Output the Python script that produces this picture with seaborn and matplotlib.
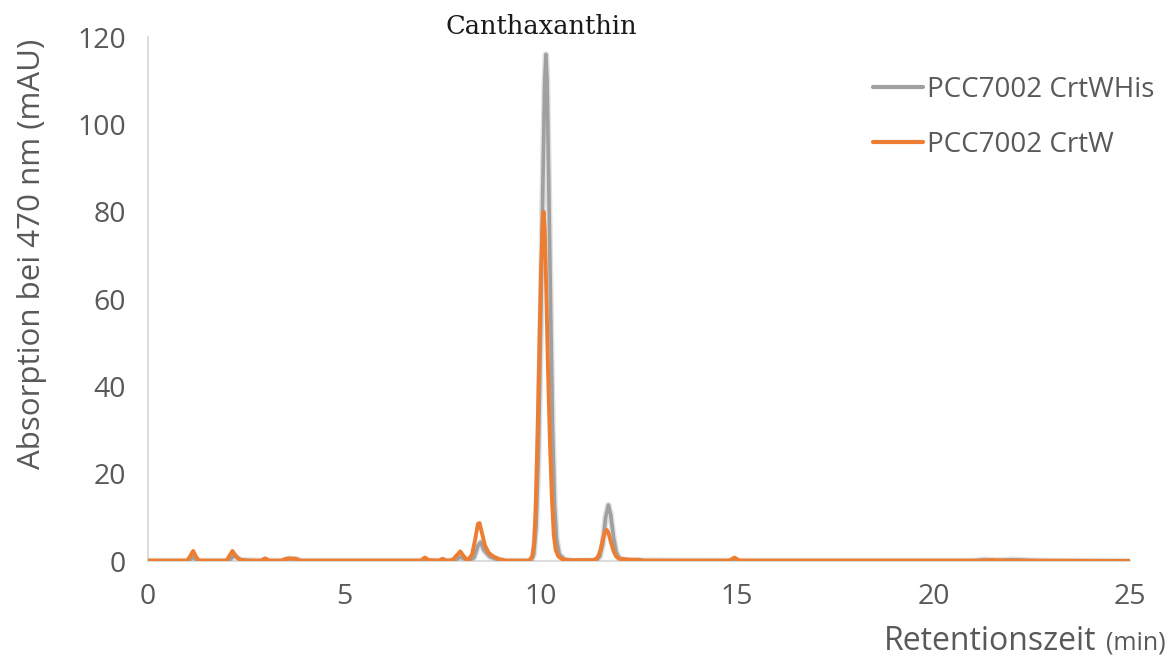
import matplotlib
matplotlib.use("Agg")
import matplotlib.pyplot as plt
import matplotlib.patheffects as pe
from matplotlib.ticker import MultipleLocator
import seaborn as sns
import pandas as pd

# ---- data ----
crtwhis_t = [0.0, 1.0, 1.1, 1.15, 1.25, 2.05, 2.2, 2.35, 2.9, 3.0, 3.1, 3.45, 3.6, 3.8, 3.9,
             6.95, 7.05, 7.15, 7.45, 7.5, 7.6, 7.8, 7.95, 8.1, 8.2, 8.3, 8.4, 8.47, 8.55, 8.7, 8.9, 9.1,
             9.75, 9.82, 9.88, 9.94, 10.0, 10.05, 10.1, 10.13, 10.16, 10.2, 10.25, 10.3, 10.35, 10.4,
             10.47, 10.6, 10.8, 11.4, 11.5, 11.58, 11.65, 11.72, 11.78, 11.85, 11.92, 12.0, 12.2,
             14.85, 14.95, 15.05, 21.0, 21.3, 21.6, 22.0, 22.5, 23.0, 25.0]
crtwhis_y = [0.0, 0.0, 0.5, 0.9, 0.0, 0.0, 1.3, 0.2, 0.0, 0.3, 0.0, 0.0, 0.5, 0.4, 0.0,
             0.0, 0.3, 0.0, 0.0, 0.2, 0.0, 0.1, 0.9, 0.3, 0.2, 0.8, 3.5, 4.3, 2.5, 1.0, 0.3, 0.0,
             0.0, 1.5, 8.0, 25.0, 55.0, 85.0, 110.0, 116.0, 110.0, 88.0, 58.0, 30.0, 13.0, 5.0,
             1.5, 0.4, 0.0, 0.1, 1.0, 4.0, 10.0, 12.8, 10.5, 5.5, 2.0, 0.6, 0.1,
             0.0, 0.2, 0.0, 0.0, 0.3, 0.1, 0.3, 0.1, 0.0, 0.0]

crtw_t = [0.0, 1.0, 1.08, 1.15, 1.22, 1.3, 2.0, 2.08, 2.15, 2.25, 2.35, 2.5, 2.88, 2.98, 3.08,
          3.4, 3.5, 3.6, 3.75, 3.85, 6.95, 7.05, 7.15, 7.4, 7.5, 7.6, 7.75, 7.88, 7.95, 8.03, 8.1,
          8.15, 8.25, 8.33, 8.4, 8.44, 8.5, 8.58, 8.68, 8.8, 8.95, 9.1,
          9.7, 9.78, 9.83, 9.87, 9.92, 9.97, 10.01, 10.05, 10.07, 10.1, 10.14, 10.18, 10.23, 10.28,
          10.33, 10.38, 10.45, 10.55, 10.7, 11.35, 11.45, 11.52, 11.58, 11.64, 11.68, 11.72, 11.78,
          11.85, 11.92, 12.0, 12.3, 12.5, 12.6, 14.8, 14.93, 15.05, 21.3, 21.5, 21.8, 25.0]
crtw_y = [0.1, 0.1, 1.2, 2.3, 1.0, 0.1, 0.1, 1.3, 2.3, 0.9, 0.3, 0.1, 0.1, 0.6, 0.1,
          0.1, 0.5, 0.6, 0.5, 0.1, 0.1, 0.8, 0.2, 0.1, 0.5, 0.1, 0.2, 1.5, 2.2, 1.2, 0.4,
          0.2, 1.5, 5.0, 8.5, 8.7, 6.5, 3.5, 1.8, 1.0, 0.4, 0.1,
          0.1, 1.0, 4.0, 12.0, 30.0, 52.0, 68.0, 78.0, 80.0, 76.0, 62.0, 45.0, 28.0, 15.0,
          6.0, 2.5, 1.0, 0.4, 0.2, 0.2, 0.8, 2.5, 5.0, 6.8, 7.1, 6.5, 4.5,
          2.3, 1.0, 0.5, 0.3, 0.3, 0.1, 0.1, 0.8, 0.1, 0.1, 0.2, 0.1, 0.0]

series_names = ["PCC7002 CrtWHis", "PCC7002 CrtW"]
x_ticks = [0, 5, 10, 15, 20, 25]
y_ticks = [0, 20, 40, 60, 80, 100, 120]

df_his = pd.DataFrame({"t": crtwhis_t, "y": crtwhis_y})
df_w = pd.DataFrame({"t": crtw_t, "y": crtw_y})

sns.set_theme(style="white")
plt.rcParams["font.family"] = ["Open Sans", "DejaVu Sans"]

W, H = 1172, 657
fig = plt.figure(figsize=(W / 100, H / 100), dpi=100)
ax = fig.add_axes([148 / W, 1 - 561 / H, (1130 - 148) / W, (561 - 37) / H])

gray = "#a0a0a0"
orange = "#ed7d31"
txt = "#595959"

sns.lineplot(data=df_his, x="t", y="y", ax=ax, color=gray, linewidth=2.6,
             estimator=None, sort=False, label=series_names[0])
sns.lineplot(data=df_w, x="t", y="y", ax=ax, color=orange, linewidth=2.8,
             estimator=None, sort=False, label=series_names[1])
ax.lines[0].set_path_effects([pe.Stroke(linewidth=4.6, foreground="#a8a8a8", alpha=0.35), pe.Normal()])

ax.set_xlim(0, 25)
ax.set_ylim(0, 120)
ax.set_xticks(x_ticks)
ax.set_yticks(y_ticks)
ax.xaxis.set_minor_locator(MultipleLocator(1))
ax.yaxis.set_minor_locator(MultipleLocator(4))

for s in ["top", "right"]:
    ax.spines[s].set_visible(False)
for s in ["left", "bottom"]:
    ax.spines[s].set_color("#d9d9d9")
    ax.spines[s].set_linewidth(1.3)
    ax.spines[s].set_zorder(0)

ax.tick_params(axis="both", which="both", direction="out", color="#d9d9d9", width=1.2,
               length=7, labelcolor=txt, labelsize=20.5)
ax.tick_params(axis="x", which="major", pad=9)
ax.tick_params(axis="y", which="major", pad=9)
ax.tick_params(which="minor", labelbottom=False, labelleft=False)
ax.set_xlabel("")
ax.set_ylabel("")

leg = ax.legend(loc="upper left", bbox_to_anchor=((862 - 148) / (1130 - 148), 1 - (65 - 37) / (561 - 37)),
                frameon=False, fontsize=20, handlelength=1.8, handletextpad=0.15,
                labelspacing=0.95, borderaxespad=0)
for t in leg.get_texts():
    t.set_color(txt)
for h in leg.get_lines():
    h.set_linewidth(3)
    h.set_path_effects([])

fig.text(32 / W, 1 - 254 / H, "Absorption bei 470 nm (mAU)", rotation=90, ha="center", va="center",
         fontsize=22.5, color=txt)
fig.text(1096 / W, 1 - 641 / H, "Retentionszeit", ha="right", va="center", fontsize=23, color=txt)
fig.text(1166 / W, 1 - 643 / H, "(min)", ha="right", va="center", fontsize=18, color=txt)
fig.text(541 / W, 1 - 27 / H, "Canthaxanthin", ha="center", va="center", fontsize=18.5,
         color="#1a1a1a", family=["DejaVu Serif"])

fig.savefig("out.png", dpi=100)
